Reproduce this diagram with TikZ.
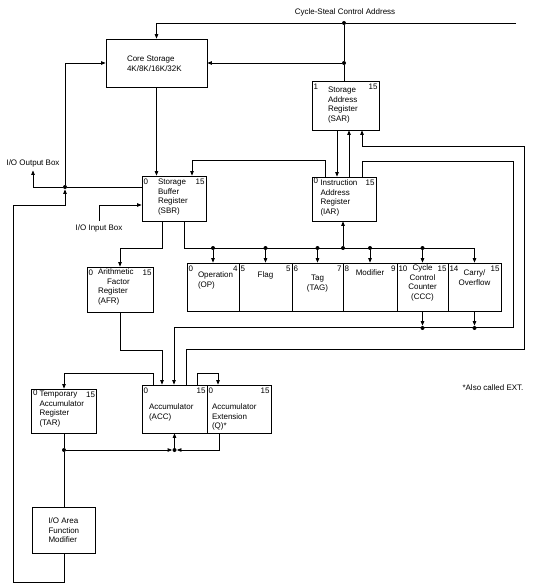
\documentclass[tikz,border=0pt]{standalone}
\usepackage{fontspec}
\setmainfont{Liberation Sans}
\usetikzlibrary{arrows.meta}

\begin{document}
\begin{tikzpicture}[x=1pt, y=-1pt, line width=0.75pt,
        >={Triangle[length=4.5pt, width=3.5pt]},
        font=\fontsize{8}{9.5}\selectfont,
        reg/.style={draw, rectangle, inner sep=0pt},
        bit/.style={inner xsep=1.5pt, inner ysep=2.5pt},
        txt/.style={inner sep=0pt, align=left, anchor=north west},
        dot/.style={circle, fill, inner sep=0pt, minimum size=4pt}]

            \useasboundingbox (0,0) rectangle (536,588);

            %% Registers
            % Core storage
            \node[reg, minimum width=101, minimum height=48] (core) at (156.5,63) {};
            \node[txt, xshift=21, yshift=-17] (coretxt) at (core.north west) {Core Storage\\4K/8K/16K/32K};

            % Storage address register (SAR)
            \node[reg, minimum width=67, minimum height=49] (sar) at (345.5,105.5) {};
            \node[bit, anchor=north west] (sar1) at (sar.north west) {1};
            \node[bit, anchor=north east] (sar15) at (sar.north east) {15};
            \node[txt, xshift=16, yshift=-6] (sartxt) at (sar.north west) {Storage\\Address\\Register\\(SAR)};

            % Instruction address register (IAR)
            \node[reg, minimum width=64, minimum height=44] (iar) at (344,199) {};
            \node[bit, anchor=north west, inner ysep=1pt] (iar0) at (iar.north west) {0};
            \node[bit, anchor=north east] (iar15) at (iar.north east) {15};
            \node[txt, xshift=8.5, yshift=-3] (iartxt) at (iar.north west) {Instruction\\Address\\Register\\(IAR)};

            % Storage buffer register (SBR)
            \node[reg, minimum width=64, minimum height=45] (sbr) at (174,198.5) {};
            \node[bit, anchor=north west] (sbr0) at (sbr.north west) {0};
            \node[bit, anchor=north east] (sbr15) at (sbr.north east) {15};
            \node[txt, xshift=16, yshift=-3] (sbrtxt) at (sbr.north west) {Storage\\Buffer\\Register\\(SBR)};

            % Arithmetic factor register (AFR)
            \node[reg, minimum width=66, minimum height=45] (afr) at (120,289.5) {};
            \node[bit, anchor=north west] (afr0) at (afr.north west) {0};
            \node[bit, anchor=north east] (afr15) at (afr.north east) {15};
            \node[txt, xshift=11, yshift=-2] (afrtxt) at (afr.north west) {Arithmetic\\\hspace*{9pt}Factor\\Register\\(AFR)};

            % Instruction fields (one row of cells)
            \node[reg, minimum width=52, minimum height=48] (op) at (213,287) {};
            \node[reg, minimum width=53, minimum height=48] (flag) at (265.5,287) {};
            \node[reg, minimum width=51, minimum height=48] (tag) at (317.5,287) {};
            \node[reg, minimum width=54, minimum height=48] (mod) at (370,287) {};
            \node[reg, minimum width=51, minimum height=48] (ccc) at (422.5,287) {};
            \node[reg, minimum width=53, minimum height=48] (carry) at (474.5,287) {};

            \node[bit, anchor=north west] (op0) at (op.north west) {0};
            \node[bit, anchor=north east] (op4) at (op.north east) {4};
            \node[bit, anchor=north west] (flag5a) at (flag.north west) {5};
            \node[bit, anchor=north east] (flag5b) at (flag.north east) {5};
            \node[bit, anchor=north west] (tag6) at (tag.north west) {6};
            \node[bit, anchor=north east] (tag7) at (tag.north east) {7};
            \node[bit, anchor=north west] (mod8) at (mod.north west) {8};
            \node[bit, anchor=north east] (mod9) at (mod.north east) {9};
            \node[bit, anchor=north west] (ccc10) at (ccc.north west) {10};
            \node[bit, anchor=north east] (ccc15) at (ccc.north east) {15};
            \node[bit, anchor=north west] (car14) at (carry.north west) {14};
            \node[bit, anchor=north east] (car15) at (carry.north east) {15};

            \node[txt, xshift=11, yshift=-9] (optxt) at (op.north west) {Operation\\(OP)};
            \node[txt, anchor=north, align=center, yshift=-9] (flagtxt) at (flag.north) {Flag};
            \node[txt, anchor=north, align=center, yshift=-12] (tagtxt) at (tag.north) {Tag\\(TAG)};
            \node[txt, anchor=north, align=center, yshift=-7] (modtxt) at (mod.north) {Modifier};
            \node[txt, anchor=north, align=center, yshift=-2] (ccctxt) at (ccc.north) {Cycle\\Control\\Counter\\(CCC)};
            \node[txt, anchor=north, align=center, yshift=-7] (cartxt) at (carry.north) {Carry/\\Overflow};

            % Accumulator and extension
            \node[reg, minimum width=65, minimum height=48] (acc) at (174.5,409) {};
            \node[bit, anchor=north west] (acc0) at (acc.north west) {0};
            \node[bit, anchor=north east] (acc15) at (acc.north east) {15};
            \node[txt, xshift=7, yshift=-19] (acctxt) at (acc.north west) {Accumulator\\(ACC)};

            \node[reg, minimum width=64, minimum height=48] (q) at (239,409) {};
            \node[bit, anchor=north west] (q0) at (q.north west) {0};
            \node[bit, anchor=north east] (q15) at (q.north east) {15};
            \node[txt, xshift=5, yshift=-19] (qtxt) at (q.north west) {Accumulator\\Extension\\(Q)*};

            % Temporary accumulator register (TAR)
            \node[reg, minimum width=65, minimum height=44] (tar) at (64,411) {};
            \node[bit, anchor=north west, inner ysep=1pt] (tar0) at (tar.north west) {0};
            \node[bit, anchor=north east] (tar15) at (tar.north east) {15};
            \node[txt, xshift=8, yshift=-2] (tartxt) at (tar.north west) {Temporary\\Accumulator\\Register\\(TAR)};

            % I/O area function modifier
            \node[reg, minimum width=63, minimum height=46] (ioa) at (64,530) {};
            \node[txt, xshift=16, yshift=-11] (ioatxt) at (ioa.north west) {I/O Area\\Function\\Modifier};

            %% Labels
            \node (cslbl) at (345,12) {Cycle-Steal Control Address};
            \node (outlbl) at (33,163) {I/O Output Box};
            \node (inlbl) at (99,228) {I/O Input Box};
            \node (note) at (493,388) {*Also called EXT.};

            %% Junctions
            \coordinate (csend) at (516,23);
            \node[dot] (cs1) at (344,23) {};
            \node[dot] (cs2) at (344,63) {};
            \node[dot] (outdot) at (65,187) {};
            \node[dot] (bop) at (213,248) {};
            \node[dot] (bflag) at (265.5,248) {};
            \node[dot] (btag) at (317.5,248) {};
            \node[dot] (biar) at (343,248) {};
            \node[dot] (bmod) at (370,248) {};
            \node[dot] (bccc) at (422.5,248) {};
            \node[dot] (rccc) at (422.5,328) {};
            \node[dot] (rcar) at (474.5,328) {};
            \node[dot] (tdot) at (64,450) {};
            \node[dot] (jn) at (174.5,450) {};

            %% Connections
            % Cycle-steal address and SAR to core storage
            \draw (csend) -- (cs1);
            \draw[->] (cs1) -| (core.north);
            \draw (cs1) -- (cs2) -- (cs2 |- sar.north);
            \draw[->] (cs2) -- (cs2 -| core.east);

            % Core storage and SBR
            \draw[->] (core.south) -- (core.south |- sbr.north);
            \draw (sbr.west |- outdot) -- (outdot);
            \draw[->] (outdot) |- (core.west);
            \draw[->] (outdot) -| (outlbl.south);
            \draw[->] (ioa.south) -- ++(0,29) -| ++(-51,-377) -| (outdot);
            \draw[->] (inlbl.north) |- ([yshift=-6.5pt]sbr.west);
            \draw[->] ([xshift=-19pt]iar.north) -- ++(0,-16) -| ([xshift=18pt]sbr.north);

            % SAR and IAR
            \draw[->] ([xshift=-8.5pt]sar.south) -- ([xshift=-8.5pt]sar.south |- iar.north);
            \draw[->] ([xshift=5pt]iar.north) -- ([xshift=5pt]iar.north |- sar.south);
            \draw[->] ([xshift=11.5pt]acc.north) -- ++(0,-35) -| ++(338,-203) -| ([xshift=16.5pt]sar.south);
            \draw[->] ([xshift=18pt]iar.north) -- ++(0,-15) -| ++(151,166) -| ([xshift=-0.5pt]acc.north);

            % SBR bus to the instruction fields
            \draw[->] ([xshift=10pt]sbr.south) |- (carry.north |- bop) -- (carry.north);
            \draw[->] (bop) -- (bop |- op.north);
            \draw[->] (bflag) -- (bflag |- flag.north);
            \draw[->] (btag) -- (btag |- tag.north);
            \draw[->] (bmod) -- (bmod |- mod.north);
            \draw[->] (bccc) -- (bccc |- ccc.north);
            \draw[->] (biar) -- (biar |- iar.south);
            \draw[->] (ccc.south) -- (rccc);
            \draw[->] (carry.south) -- (rcar);

            % SBR to AFR to ACC
            \draw[->] ([xshift=-12pt]sbr.south) -- ++(0,27) -| (afr.north);
            \draw[->] (afr.south) -- ++(0,38) -| ([xshift=-12.5pt]acc.north);

            % ACC, Q and TAR
            \draw[->] ([xshift=22.5pt]acc.north) -- ++(0,-11) -| ([xshift=-21pt]q.north);
            \draw[->] ([xshift=-21.5pt]acc.north) -- ++(0,-11) -| (tar.north);
            \draw (tar.south) -- (tdot) -- (ioa.north);
            \draw[->] (tdot) -- (jn);
            \draw[->] ([xshift=-20pt]q.south) |- (jn);
            \draw[->] (jn) -- (acc.south);

        \end{tikzpicture}
\end{document}
